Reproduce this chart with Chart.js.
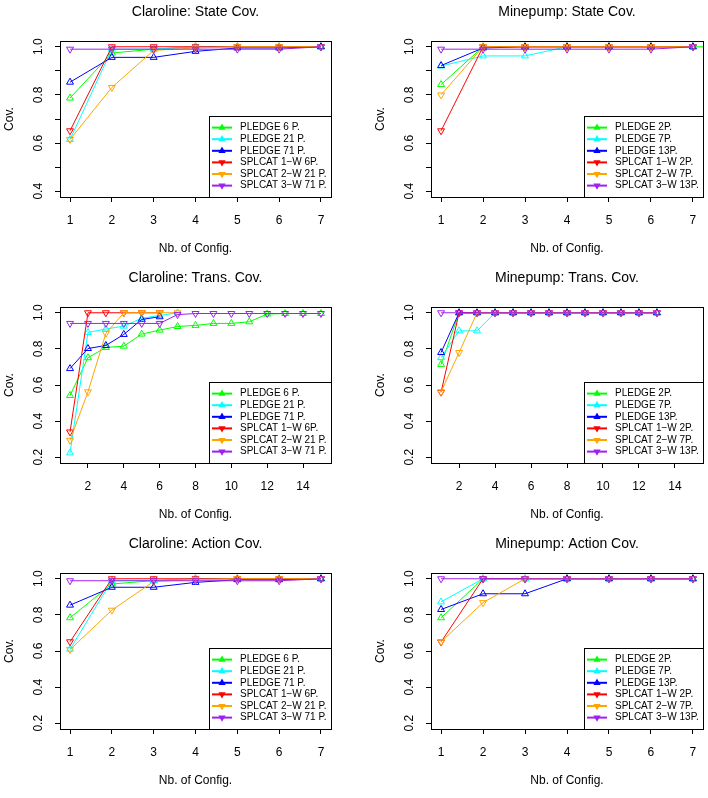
<!DOCTYPE html>
<html lang="en">
<head>
<meta charset="UTF-8">
<title>Coverage per number of configurations</title>
<script src="https://cdn.jsdelivr.net/npm/chart.js"></script>
<style>
  body { margin: 0; background: #fff; }
  #page { position: relative; width: 708px; height: 798px; background: #fff; }
  .cell { position: absolute; width: 354px; height: 266px; }
</style>
</head>
<body>
<div id="page"></div>
<script>
// ---- data ----
const claroLabels = ['PLEDGE 6 P.', 'PLEDGE 21 P.', 'PLEDGE 71 P.', 'SPLCAT 1\u2212W 6P.', 'SPLCAT 2\u2212W 21 P.', 'SPLCAT 3\u2212W 71 P.'];
const minepumpLabels = ['PLEDGE 2P.', 'PLEDGE 7P.', 'PLEDGE 13P.', 'SPLCAT 1\u2212W 2P.', 'SPLCAT 2\u2212W 7P.', 'SPLCAT 3\u2212W 13P.'];

// Claroline: State Cov. (one row per series, in legend order)
const claroState = [
  [0.787, 0.974, 0.99, 1.0, 1.0, 1.0, 1.0],
  [0.615, 0.99, 0.99, 1.0, 1.0, 1.0, 1.0],
  [0.853, 0.956, 0.956, 0.981, 0.995, 0.995, 1.0],
  [0.651, 1.0, 1.0, 1.0, 1.0, 1.0, 1.0],
  [0.615, 0.831, 0.985, 0.995, 1.0, 1.0, 1.0],
  [0.99, 0.99, 0.99, 0.99, 0.99, 0.99, 1.0]
];
// Minepump: State Cov.
const minepumpState = [
  [0.843, 1.0, 1.0, 1.0, 1.0, 1.0, 1.0, 1.0],
  [0.92, 0.962, 0.962, 1.0, 1.0, 1.0, 1.0],
  [0.922, 0.995, 1.0, 1.0, 1.0, 1.0, 1.0],
  [0.651, 1.0, 1.0, 1.0, 1.0, 1.0, 1.0],
  [0.8, 1.0, 1.0, 1.0, 1.0, 1.0, 1.0],
  [0.99, 0.99, 0.99, 0.99, 0.99, 0.99, 1.0]
];
// Claroline: Trans. Cov.
const claroTrans = [
  [0.542, 0.751, 0.808, 0.815, 0.882, 0.904, 0.924, 0.93, 0.941, 0.941, 0.95, 0.993, 0.996, 0.996, 0.996],
  [0.224, 0.891, 0.91, 0.926, 0.97, 0.985, 1.0],
  [0.691, 0.802, 0.819, 0.88, 0.963, 0.978],
  [0.34, 1.0, 1.0, 1.0, 1.0, 1.0],
  [0.294, 0.562, 0.886, 1.0, 1.0, 1.0, 1.0],
  [0.941, 0.941, 0.941, 0.941, 0.941, 0.941, 0.99, 0.996, 0.996, 0.996, 0.996, 0.996, 0.996, 0.996, 0.996]
];
// Minepump: Trans. Cov.
const minepumpTrans = [
  [0.714, 1, 1, 1, 1, 1, 1, 1, 1, 1, 1, 1, 1],
  [0.752, 0.9, 0.9, 1, 1, 1, 1, 1, 1, 1, 1, 1, 1],
  [0.78, 1, 1, 1, 1, 1, 1, 1, 1, 1, 1, 1, 1],
  [0.56, 1, 1, 1, 1, 1, 1, 1, 1, 1, 1, 1, 1],
  [0.562, 0.78, 1, 1, 1, 1, 1, 1, 1, 1, 1, 1, 1],
  [1, 1, 1, 1, 1, 1, 1, 1, 1, 1, 1, 1, 1]
];
// Claroline: Action Cov.
const claroAction = [
  [0.784, 0.971, 0.99, 1.0, 1.0, 1.0, 1.0],
  [0.61, 0.99, 0.99, 1.0, 1.0, 1.0, 1.0],
  [0.854, 0.953, 0.953, 0.98, 0.995, 0.995, 1.0],
  [0.651, 1.0, 1.0, 1.0, 1.0, 1.0, 1.0],
  [0.608, 0.826, 0.985, 0.995, 1.0, 1.0, 1.0],
  [0.989, 0.989, 0.989, 0.989, 0.989, 0.989, 1.0]
];
// Minepump: Action Cov.
const minepumpAction = [
  [0.784, 1, 1, 1, 1, 1, 1],
  [0.872, 1, 1, 1, 1, 1, 1],
  [0.83, 0.917, 0.917, 1, 1, 1, 1],
  [0.65, 1, 1, 1, 1, 1, 1],
  [0.651, 0.868, 1, 1, 1, 1, 1],
  [1, 1, 1, 1, 1, 1, 1]
];

// axis ticks / limits
const xTicks7 = [1, 2, 3, 4, 5, 6, 7];
const xTicks15 = [2, 4, 6, 8, 10, 12, 14];
const xlim7 = [1, 7];
const xlim15 = [1, 15];
const yTicksState = [0.4, 0.5, 0.6, 0.7, 0.8, 0.9, 1.0];
const yLabelsState = ['0.4', '', '0.6', '', '0.8', '', '1.0'];
const yTicksWide = [0.2, 0.4, 0.6, 0.8, 1.0];
const yLabelsWide = ['0.2', '0.4', '0.6', '0.8', '1.0'];
const ylimState = [0.4, 1.0];
const ylimWide = [0.2, 1.0];

// ---- styles ----
const seriesColors = ['#00ff00', '#00ffff', '#0000ff', '#ff0000', '#ffa500', '#a020f0'];
const FONT = "'Liberation Sans', Arial, Helvetica, sans-serif";
Chart.defaults.font.family = FONT;
Chart.defaults.color = '#000';

// R-style extension of 4% on each side
function ext(lim) {
  const d = (lim[1] - lim[0]) * 0.04;
  return [lim[0] - d, lim[1] + d];
}

function tri(ctx, x, y, r, down) {
  const s = down ? -1 : 1;
  ctx.beginPath();
  ctx.moveTo(x, y - s * r);
  ctx.lineTo(x + r * 0.866, y + s * r * 0.5);
  ctx.lineTo(x - r * 0.866, y + s * r * 0.5);
  ctx.closePath();
}

// box around the plot region
const boxPlugin = {
  id: 'rbox',
  afterDraw(chart) {
    const a = chart.chartArea, ctx = chart.ctx;
    ctx.save();
    ctx.strokeStyle = '#000';
    ctx.lineWidth = 1;
    ctx.strokeRect(Math.round(a.left) + 0.5, Math.round(a.top) + 0.5,
      Math.round(a.right - a.left), Math.round(a.bottom - a.top));
    ctx.restore();
  }
};

// legend in the bottom-right corner of the plot region
const insideLegend = {
  id: 'insideLegend',
  afterDraw(chart) {
    const a = chart.chartArea, ctx = chart.ctx;
    const sets = chart.data.datasets;
    const rowH = 11.6;
    ctx.save();
    ctx.font = '10px ' + FONT;
    let maxW = 0;
    sets.forEach(d => { maxW = Math.max(maxW, ctx.measureText(d.label).width); });
    const w = Math.round(31 + maxW + 4.5);
    const h = Math.round(rowH * (sets.length + 1));
    const right = Math.round(a.right), bottom = Math.round(a.bottom);
    const left = right - w, top = bottom - h;
    ctx.fillStyle = '#fff';
    ctx.fillRect(left, top, w, h);
    ctx.strokeStyle = '#000';
    ctx.lineWidth = 1;
    ctx.strokeRect(left + 0.5, top + 0.5, w, h);
    sets.forEach((d, i) => {
      const cy = top + rowH + i * rowH;
      ctx.strokeStyle = d.borderColor;
      ctx.lineWidth = 2;
      ctx.beginPath();
      ctx.moveTo(left + 3, cy);
      ctx.lineTo(left + 23, cy);
      ctx.stroke();
      ctx.fillStyle = d.borderColor;
      tri(ctx, left + 13, cy, 4.2, i >= 3);
      ctx.fill();
      ctx.fillStyle = '#000';
      ctx.textBaseline = 'middle';
      ctx.textAlign = 'left';
      ctx.fillText(d.label, left + 31, cy);
    });
    ctx.restore();
  }
};

function makePanel(col, row, title, series, labels, xTicks, xlim, yTicks, yLabels, ylim) {
  const div = document.createElement('div');
  div.className = 'cell';
  div.style.left = (col * 354) + 'px';
  div.style.top = (row * 266) + 'px';
  const cv = document.createElement('canvas');
  cv.width = 354;
  cv.height = 266;
  div.appendChild(cv);
  document.getElementById('page').appendChild(div);

  const xr = ext(xlim), yr = ext(ylim);
  const datasets = series.map((vals, i) => ({
    label: labels[i],
    data: vals.map((v, j) => ({ x: j + 1, y: v })),
    borderColor: seriesColors[i],
    borderWidth: 1,
    tension: 0,
    fill: false,
    pointStyle: 'triangle',
    rotation: i < 3 ? 0 : 180,
    pointRadius: 4,
    pointBorderWidth: 1,
    pointBorderColor: seriesColors[i],
    pointBackgroundColor: 'rgba(0,0,0,0)',
    order: series.length - i
  }));

  new Chart(cv, {
    type: 'line',
    data: { datasets: datasets },
    options: {
      responsive: false,
      animation: false,
      events: [],
      layout: { padding: { left: col ? 17 : 0, right: col ? 5 : 23, top: 0, bottom: 0 } },
      plugins: {
        legend: { display: false },
        tooltip: { enabled: false },
        title: {
          display: true, text: title, fullSize: false, color: '#000',
          font: { size: 14, weight: 'normal' },
          padding: { top: 4, bottom: 20.2 }
        }
      },
      scales: {
        x: {
          type: 'linear', min: xr[0], max: xr[1],
          afterFit: s => { s.height = 69; },
          afterBuildTicks: s => { s.ticks = xTicks.map(v => ({ value: v })); },
          ticks: { color: '#000', font: { size: 12 }, padding: 11, autoSkip: false, maxRotation: 0,
            callback: v => String(v) },
          grid: { drawOnChartArea: false, drawTicks: true, tickLength: 5, color: '#000', tickColor: '#000' },
          border: { display: false },
          title: { display: true, text: 'Nb. of Config.', color: '#000', font: { size: 12 },
            padding: { top: 0, bottom: 10.4 } }
        },
        y: {
          type: 'linear', min: yr[0], max: yr[1],
          afterFit: s => { s.width = 60; },
          afterBuildTicks: s => { s.ticks = yTicks.map(v => ({ value: v })); },
          ticks: { color: '#000', font: { size: 12 }, padding: 7.6, autoSkip: false,
            minRotation: 90, maxRotation: 90, crossAlign: 'center',
            callback: (v, i) => yLabels[i] },
          grid: { drawOnChartArea: false, drawTicks: true, tickLength: 5, color: '#000', tickColor: '#000' },
          border: { display: false },
          title: { display: true, text: 'Cov.', color: '#000', font: { size: 12 },
            padding: { top: 2.5, bottom: 0 } }
        }
      }
    },
    plugins: [boxPlugin, insideLegend]
  });
}

makePanel(0, 0, 'Claroline: State Cov.', claroState, claroLabels, xTicks7, xlim7, yTicksState, yLabelsState, ylimState);
makePanel(1, 0, 'Minepump: State Cov.', minepumpState, minepumpLabels, xTicks7, xlim7, yTicksState, yLabelsState, ylimState);
makePanel(0, 1, 'Claroline: Trans. Cov.', claroTrans, claroLabels, xTicks15, xlim15, yTicksWide, yLabelsWide, ylimWide);
makePanel(1, 1, 'Minepump: Trans. Cov.', minepumpTrans, minepumpLabels, xTicks15, xlim15, yTicksWide, yLabelsWide, ylimWide);
makePanel(0, 2, 'Claroline: Action Cov.', claroAction, claroLabels, xTicks7, xlim7, yTicksWide, yLabelsWide, ylimWide);
makePanel(1, 2, 'Minepump: Action Cov.', minepumpAction, minepumpLabels, xTicks7, xlim7, yTicksWide, yLabelsWide, ylimWide);
</script>
</body>
</html>
